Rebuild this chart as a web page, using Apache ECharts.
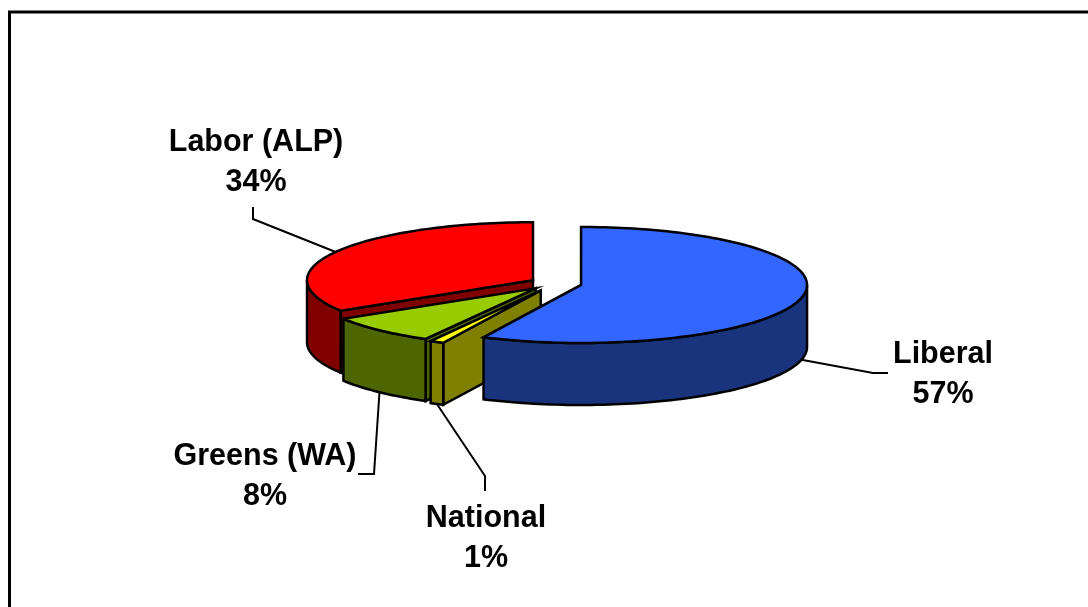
<!DOCTYPE html>
<html>
<head>
<meta charset="utf-8">
<style>html,body{margin:0;padding:0;background:#fff}#c{width:1088px;height:607px}</style>
<script src="https://cdn.jsdelivr.net/npm/echarts@6/dist/echarts.min.js"></script>
</head>
<body>
<div id="c"></div>
<script>
// Data, clockwise from 12 o'clock (shares; labels show them rounded)
const categories = ['Liberal', 'National', 'Greens (WA)', 'Labor (ALP)'];
const shares = [57.1, 1, 8.1, 33.8];
const topColors = ['#3366FF', '#FFFF00', '#99CC00', '#FF0000'];
const wallColors = ['#1A337D', '#808000', '#4D6600', '#800000'];

// Layout of the tilted pie
const CX = 555.7, CY = 283.5, RX = 226, RY = 58, DEPTH = 62, EXPLODE = 0.115;
const sliceNudges = [[0, 0], [-3, 1], [-2, 0], [0, 0]];
const paintOrder = [40, 30, 20, 10];
// Leader elbow points and label centres for each slice
const leaderBends = [
  [[873, 373], [888, 373]],
  [[485, 476], [485, 491]],
  [[374, 474], [358, 474]],
  [[253, 219], [253, 207]]
];
const labelCentres = [[943, 375], [486, 539], [265, 477], [256, 163]];

const total = shares.reduce((a, b) => a + b, 0);
const rad = d => d * Math.PI / 180;

function renderSlice(params, api) {
  const i = params.dataIndex;
  const share = api.value(0);
  let before = 0;
  for (let k = 0; k < i; k++) before += shares[k];
  const a0 = before / total * 360, a1 = (before + share) / total * 360, mid = (a0 + a1) / 2;
  const ox = CX + EXPLODE * RX * Math.sin(rad(mid)) + sliceNudges[i][0];
  const oy = CY - EXPLODE * RY * Math.cos(rad(mid)) + sliceNudges[i][1];
  const pt = (a, d) => [ox + RX * Math.sin(rad(a)), oy - RY * Math.cos(rad(a)) + (d || 0)];
  const arc = (from, to, d) => {
    const n = Math.max(2, Math.ceil(Math.abs(to - from) / 1.5)), out = [];
    for (let s = 0; s <= n; s++) out.push(pt(from + (to - from) * s / n, d));
    return out;
  };
  const line = { stroke: '#000', lineWidth: 2.5, lineJoin: 'miter' };
  const poly = (points, fill, z) => ({ type: 'polygon', z2: z, silent: true, shape: { points }, style: Object.assign({ fill }, line) });
  const base = paintOrder[i];
  const children = [];

  // radial walls that face the viewer
  const radial = a => {
    const p = pt(a);
    return poly([[ox, oy], p, [p[0], p[1] + DEPTH], [ox, oy + DEPTH]], wallColors[i], base);
  };
  if (i === 1 || i === 2 || i === 3) children.push(radial(a0));

  // outer wall on the front half
  const f0 = Math.max(a0, 90), f1 = Math.min(a1, 270);
  if (f1 > f0) {
    const top = arc(f0, f1), bottom = arc(f0, f1, DEPTH).reverse();
    children.push(poly(top.concat(bottom), wallColors[i], base + 1));
  }
  // top face
  children.push(poly([[ox, oy]].concat(arc(a0, a1)), topColors[i], base + 2));

  // leader line from the mid-angle of the slice's rim
  const anchor = pt(mid, (mid > 90 && mid < 270) ? DEPTH : 0);
  children.push({
    type: 'polyline', z2: 50, silent: true,
    shape: { points: [anchor].concat(leaderBends[i]) },
    style: { fill: null, stroke: '#000', lineWidth: 2 }
  });
  // label
  children.push({
    type: 'text', z2: 60, silent: true,
    style: {
      text: categories[i] + '\n' + Math.round(share) + '%',
      x: labelCentres[i][0], y: labelCentres[i][1],
      align: 'center', verticalAlign: 'middle',
      font: 'bold 30.5px "Liberation Sans", Arial, sans-serif',
      lineHeight: 40, fill: '#000'
    }
  });
  return { type: 'group', children };
}

const chart = echarts.init(document.getElementById('c'), null, { renderer: 'canvas' });
chart.setOption({
  animation: false,
  backgroundColor: '#fff',
  graphic: [{
    type: 'rect', silent: true, z: 0,
    shape: { x: 9.5, y: 12, width: 1300, height: 900 },
    style: { fill: 'transparent', stroke: '#000', lineWidth: 3 }
  }],
  series: [{
    type: 'custom',
    coordinateSystem: 'none',
    renderItem: renderSlice,
    encode: { value: 0 },
    data: shares.map((v, k) => ({ name: categories[k], value: [v] }))
  }]
});
</script>
</body>
</html>
